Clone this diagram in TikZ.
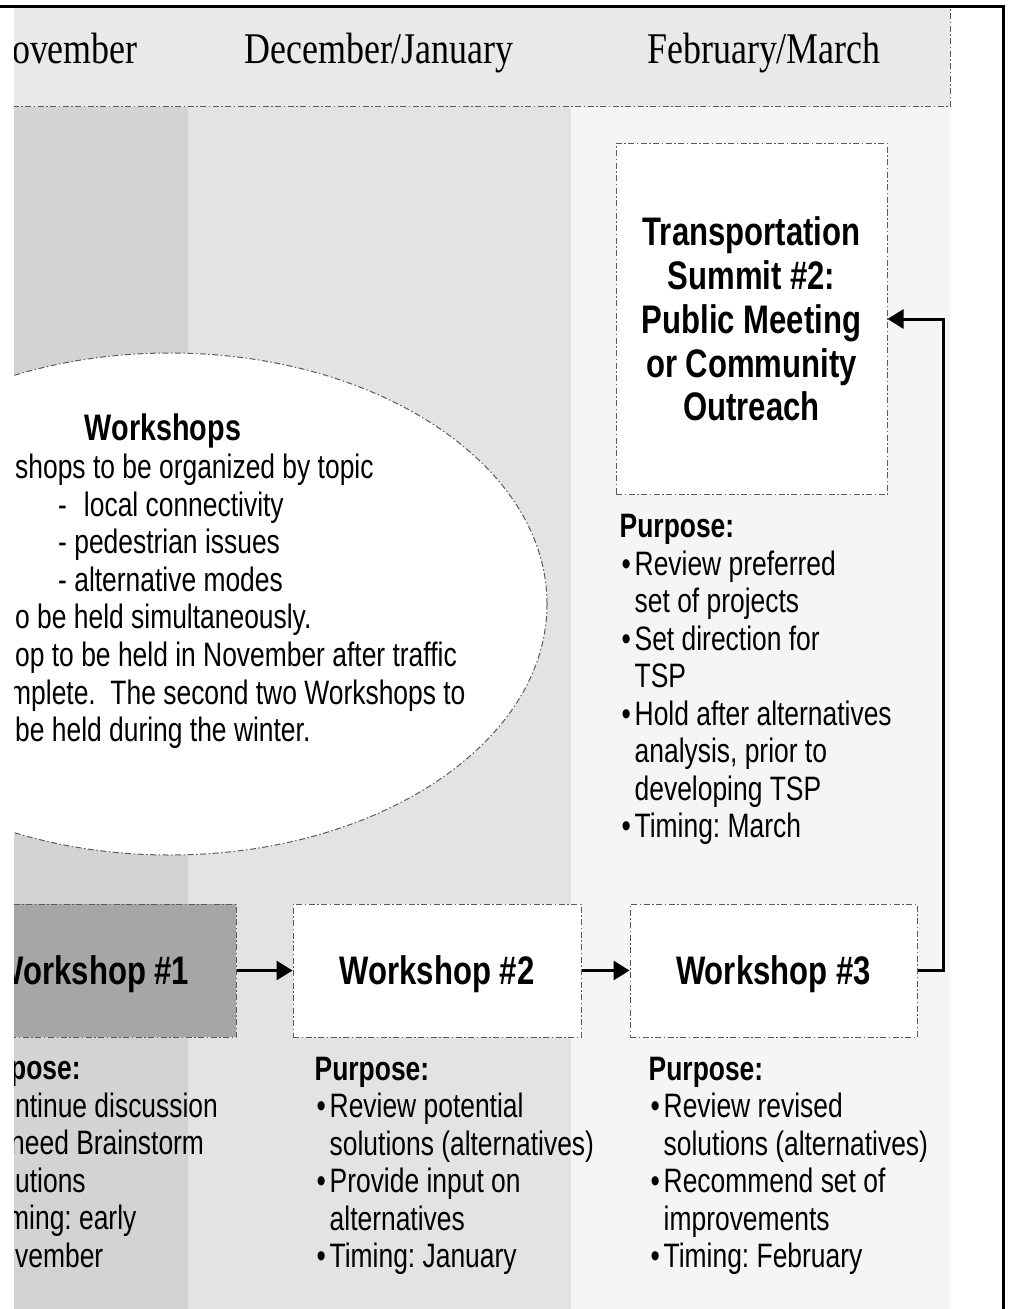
\documentclass[tikz,border=0pt]{standalone}
\usepackage{fontspec}
\setmainfont{Liberation Sans}[FakeStretch=0.78]
\newfontfamily\headfont{Liberation Serif}[FakeStretch=0.82]
\usetikzlibrary{shapes.geometric,arrows.meta,positioning}
\frenchspacing

\definecolor{novgray}{HTML}{D3D3D3}
\definecolor{decgray}{HTML}{E3E3E3}
\definecolor{febgray}{HTML}{F5F5F5}
\definecolor{hdrgray}{HTML}{E9E9E9}
\definecolor{wsgray}{HTML}{A6A6A6}
\definecolor{linegray}{HTML}{5A5A5A}

\newcommand\pbul{\hspace*{2bp}\makebox[13bp][l]{\textbullet}}
\newcommand\pind{\hspace*{15bp}}

\tikzset{
  dashdot/.style={draw=linegray, line width=1bp, dash pattern=on 6bp off 2.5bp on 1.5bp off 2.5bp},
  month/.style={font=\headfont\fontsize{44}{50}\selectfont, inner sep=0},
  wbox/.style={dashdot, fill=white, minimum width=288bp, minimum height=133bp, inner sep=0,
    font=\bfseries\fontsize{40}{44}\selectfont},
  wshop/.style={wbox, text depth=0bp},
  purpose/.style={align=left, inner sep=0, font=\fontsize{34}{37.7}\selectfont},
  flow/.style={-{Triangle[length=16bp,width=19bp]}, line width=3bp},
}

\begin{document}
\begin{tikzpicture}[x=1bp,y=-1bp]
  \useasboundingbox (0,0) rectangle (1010,1309);
  \begin{scope}
    \clip (14,0) rectangle (1010,1309);
    % month columns
    \fill[novgray] (-200,107) rectangle (188,1309);
    \fill[decgray] (188,107) rectangle (571,1309);
    \fill[febgray] (571,107) rectangle (950,1309);
    % header band
    \fill[hdrgray] (-200,5) rectangle (950,107);
    \draw[dashdot] (-200,107) -- (950,107) -- (950,5);
    \node[month, anchor=base east] (nov) at (138,64) {November};
    \node[month, anchor=base] (decjan) at (379,64) {December/January};
    \node[month, anchor=base] (febmar) at (764,64) {February/March};

    % workshops bubble
    \node[dashdot, ellipse, fill=white, minimum width=754bp, minimum height=502bp] (bubble) at (170,604) {};
    \node[font=\bfseries\fontsize{37}{42}\selectfont, inner sep=0, anchor=base] (wstitle) at (163,440) {Workshops};
    \node[purpose, anchor=north west] (wstext) at (15,454) {%
      shops to be organized by topic\\
      \hspace*{43bp}-\hspace{17bp}local connectivity\\
      \hspace*{43bp}- pedestrian issues\\
      \hspace*{43bp}- alternative modes\\
      o be held simultaneously.\\
      op to be held in November after traffic\\
      \hspace*{-6bp}mplete.\ \ The second two Workshops to\\
      be held during the winter.};

    % summit and workshops
    \node[wbox, minimum width=271bp, minimum height=351bp, align=center] (summit) at (751.5,319)
      {Transportation\\Summit \#2:\\Public Meeting\\or Community\\Outreach};
    \node[wshop, fill=wsgray] (w1) at (92,970.5) {Workshop \#1};
    \node[wshop] (w2) at (437,970.5) {Workshop \#2};
    \node[wshop, minimum width=287bp] (w3) at (773.5,970.5) {Workshop \#3};

    % purposes
    \node[purpose, below right=19bp and 4bp of summit.south west] (psummit) {%
      \textbf{Purpose:}\\
      \pbul Review preferred\\
      \pind set of projects\\
      \pbul Set direction for\\
      \pind TSP\\
      \pbul Hold after alternatives\\
      \pind analysis, prior to\\
      \pind developing TSP\\
      \pbul Timing: March};
    \node[purpose, anchor=north west] (p1) at (15,1056) {%
      \hspace*{-5bp}\textbf{pose:}\vphantom{P}\\
      ntinue discussion\\
      \hspace*{-5bp}need Brainstorm\\
      utions\\
      \hspace*{-8bp}ming: early\\
      vember};
    \node[purpose, below right=19bp and 22bp of w2.south west] (p2) {%
      \textbf{Purpose:}\\
      \pbul Review potential\\
      \pind solutions (alternatives)\\
      \pbul Provide input on\\
      \pind alternatives\\
      \pbul Timing: January};
    \node[purpose, below right=19bp and 19bp of w3.south west] (p3) {%
      \textbf{Purpose:}\\
      \pbul Review revised\\
      \pind solutions (alternatives)\\
      \pbul Recommend set of\\
      \pind improvements\\
      \pbul Timing: February};

    % flow
    \draw[flow] (w1) -- (w2);
    \draw[flow] (w2) -- (w3);
    \draw[flow] (w3.east) -- ++(26,0) |- (summit.east);
  \end{scope}
  % frame
  \draw[line width=3bp] (0,7) -- (1003.5,7) -- (1003.5,1309);
\end{tikzpicture}
\end{document}
